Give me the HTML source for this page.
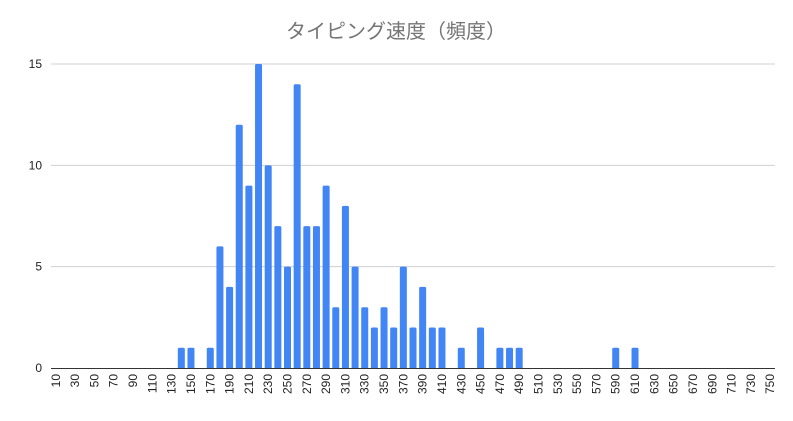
<!DOCTYPE html>
<html><head><meta charset="utf-8"><style>
body{margin:0;background:#fff;width:793px;height:416px;overflow:hidden}
svg text{font-family:"Liberation Sans","Noto Sans CJK JP",sans-serif}
</style></head><body>
<svg id="c" width="793" height="416">
<text x="396" y="38" text-anchor="middle" font-size="20" fill="#757575">タイピング速度（頻度）</text>
<g id="grid"></g><g id="bars"></g><g id="xl"></g>
</svg>
<script>
const categories=[];for(let v=10;v<=750;v+=10)categories.push(v);
const freqKeys=[140,150,170,180,190,200,210,220,230,240,250,260,270,280,290,300,310,320,330,340,350,360,370,380,390,400,410,430,450,470,480,490,590,610];
const freqVals=[1,1,1,6,4,12,9,15,10,7,5,14,7,7,9,3,8,5,3,2,3,2,5,2,4,2,2,1,2,1,1,1,1,1];
const yTicks=[0,5,10,15];
const NS="http://www.w3.org/2000/svg";
const x0=51,x1=775,y0=368,yTop=64,yMax=15;
const step=(x1-x0)/categories.length;
const xs=i=>x0+step*(i+0.5);
const ys=v=>y0-(y0-yTop)*v/yMax;
const grid=document.getElementById('grid'),bars=document.getElementById('bars'),xl=document.getElementById('xl');
yTicks.forEach(t=>{
 if(t>0){const l=document.createElementNS(NS,'line');
 l.setAttribute('x1',x0);l.setAttribute('x2',x1);l.setAttribute('y1',ys(t));l.setAttribute('y2',ys(t));l.setAttribute('stroke','#d0d0d0');
 
 
 grid.appendChild(l);}
 const tx=document.createElementNS(NS,'text');
 tx.setAttribute('x',42);tx.setAttribute('y',ys(t)+4);tx.setAttribute('text-anchor','end');tx.setAttribute('font-size','12');tx.setAttribute('fill','#222');
 tx.textContent=t;
 
 
 grid.appendChild(tx);
});
freqKeys.forEach((k,j)=>{
 const i=categories.indexOf(k);if(i<0)return;
 const v=freqVals[j],w=7,top=ys(v);
 const p=document.createElementNS(NS,'path');
 const x=xs(i)-w/2,r=1.5;
 p.setAttribute('d',`M${x},${y0}V${top+r}Q${x},${top} ${x+r},${top}H${x+w-r}Q${x+w},${top} ${x+w},${top+r}V${y0}Z`);
 p.setAttribute('fill','#4285f4');
 
 
 bars.appendChild(p);
});
const ax=document.createElementNS(NS,'line');
ax.setAttribute('x1',x0);ax.setAttribute('x2',x1);ax.setAttribute('y1',y0+0.5);ax.setAttribute('y2',y0+0.5);ax.setAttribute('stroke','#333');


bars.appendChild(ax);
categories.forEach((c,i)=>{
 if(i%2)return;
 const t=document.createElementNS(NS,'text');
 const x=xs(i)+4,y=374;
 t.setAttribute('transform',`translate(${x},${y}) rotate(-90)`);
 t.setAttribute('text-anchor','end');t.setAttribute('font-size','12');t.setAttribute('fill','#222');
 t.textContent=c;
 
 
 xl.appendChild(t);
});
</script>
</body></html>
